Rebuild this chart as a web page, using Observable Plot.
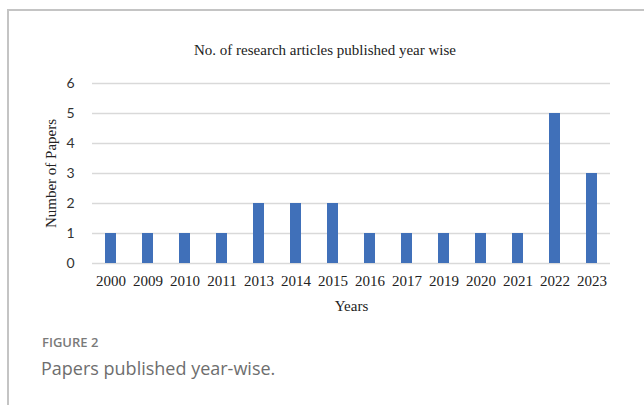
<!DOCTYPE html>
<html>
<head>
<meta charset="utf-8">
<script src="https://cdn.jsdelivr.net/npm/d3@7"></script>
<script src="https://cdn.jsdelivr.net/npm/@observablehq/plot@0.6"></script>
<style>
  html, body { margin: 0; padding: 0; background: #fff; }
  #wrap { position: relative; width: 644px; height: 405px; overflow: hidden; background: #fff; }
  #frame { position: absolute; left: 7px; top: 9px; width: 700px; height: 500px;
           border-left: 2px solid #c4c4c4; border-top: 2px solid #c4c4c4; }
  #title { position: absolute; left: 0; top: 43px; width: 650px; text-align: center;
           font-family: "Liberation Serif", "Times New Roman", serif; font-size: 15px; line-height: 15px; color: #222; }
  #chart { position: absolute; left: 8px; top: 65px; }
  #fig { position: absolute; left: 42px; top: 336px; font-family: "Open Sans", sans-serif; font-weight: 600;
         font-size: 13px; line-height: 13px; color: #7a7a7a; }
  #cap { position: absolute; left: 41px; top: 359px; font-family: "Open Sans", sans-serif; font-weight: 400;
         font-size: 18px; line-height: 18px; color: #6e6e6e; }
</style>
</head>
<body>
<div id="wrap">
  <div id="frame"></div>
  <div id="title">No. of research articles published year wise</div>
  <div id="chart"></div>
  <div id="fig">FIGURE 2</div>
  <div id="cap">Papers published year-wise.</div>
</div>
<script>
const years = ["2000","2009","2010","2011","2013","2014","2015","2016","2017","2019","2020","2021","2022","2023"];
const papers = [1,1,1,1,2,2,2,1,1,1,1,1,5,3];
const yTicks = [0,1,2,3,4,5,6];
const xLabel = "Years";
const yLabel = "Number of Papers";

const data = years.map((y, i) => ({year: y, n: papers[i]}));

const chart = Plot.plot({
  width: 636,
  height: 250,
  marginLeft: 84,
  marginRight: 34,
  marginTop: 18,
  marginBottom: 52,
  style: {fontFamily: "'Liberation Serif', 'Times New Roman', serif", fontSize: "15px", color: "#222", background: "transparent"},
  x: {domain: years, paddingInner: 0.7, paddingOuter: 0.35, align: 0.5, label: null},
  y: {domain: [0, 6], label: null},
  marks: [
    Plot.gridY(yTicks, {stroke: "#d9d9d9", strokeOpacity: 1, strokeWidth: 1.5}),
    Plot.barY(data, {x: "year", y: "n", fill: "#4070b9"}),
    Plot.axisX({tickSize: 0, tickPadding: 12, label: xLabel, labelAnchor: "center", labelOffset: 47, fill: "#222"}),
    Plot.axisY(yTicks, {tickSize: 0, tickPadding: 18, label: null, fontFamily: "Lato, 'Open Sans', sans-serif", fontSize: 14, fill: "#333"}),
    Plot.text([yLabel], {frameAnchor: "left", rotate: -90, dx: -47, lineAnchor: "top", textAnchor: "middle", text: d => d, fill: "#222"})
  ]
});
document.getElementById("chart").appendChild(chart);
</script>
</body>
</html>
